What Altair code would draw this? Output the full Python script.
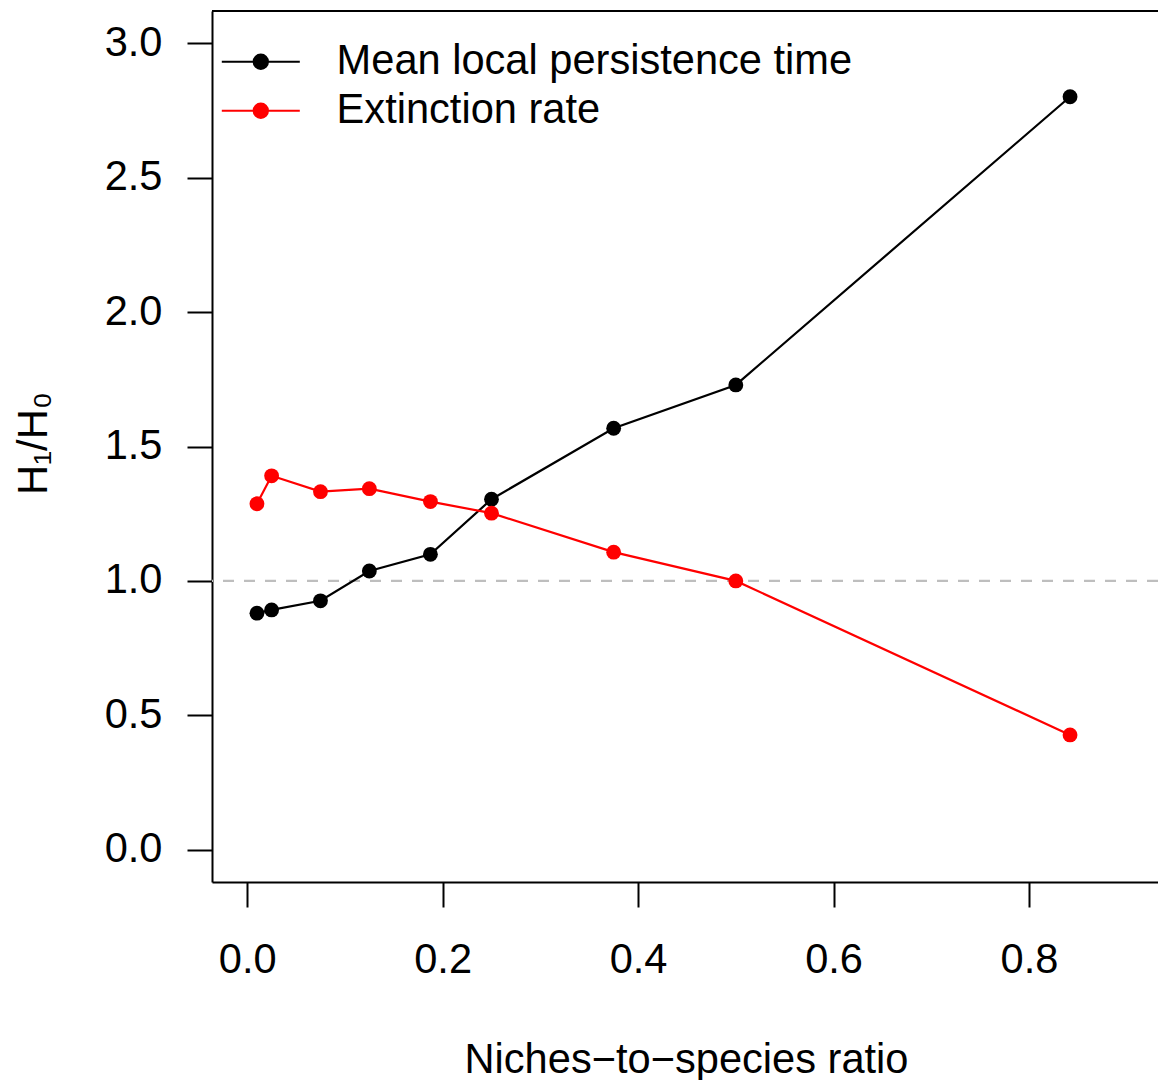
import altair as alt
import pandas as pd

# ---- data ----
ratio = [0.01, 0.025, 0.075, 0.125, 0.1875, 0.25, 0.375, 0.5, 0.842]
persistence = [0.880, 0.892, 0.926, 1.037, 1.099, 1.304, 1.568, 1.729, 2.801]
extinction = [1.287, 1.391, 1.332, 1.343, 1.295, 1.252, 1.107, 1.000, 0.427]
series_names = ["Mean local persistence time", "Extinction rate"]
series_colors = ["black", "red"]
x_ticks = [0.0, 0.2, 0.4, 0.6, 0.8]
y_ticks = [0.0, 0.5, 1.0, 1.5, 2.0, 2.5, 3.0]
ref_level = [1.0]

FONT = "Liberation Sans"
FS = 41.6
W, H = 946, 871

rows = []
for name, vals in zip(series_names, [persistence, extinction]):
    for xv, yv in zip(ratio, vals):
        rows.append({"ratio": xv, "value": yv, "series": name})
df = pd.DataFrame(rows)

x_scale = alt.Scale(domain=[-0.036, 0.932], nice=False, zero=False)
y_scale = alt.Scale(domain=[-0.12, 3.12], nice=False, zero=False)

legend_symbol = (
    "M-3.9,0L3.9,0"
    "M-0.72,0A0.72,0.72,0,1,1,0.72,0A0.72,0.72,0,1,1,-0.72,0Z"
    "M-0.52,0A0.52,0.52,0,1,1,0.52,0A0.52,0.52,0,1,1,-0.52,0Z"
    "M-0.32,0A0.32,0.32,0,1,1,0.32,0A0.32,0.32,0,1,1,-0.32,0Z"
    "M-0.12,0A0.12,0.12,0,1,1,0.12,0A0.12,0.12,0,1,1,-0.12,0Z"
)

color = alt.Color(
    "series:N",
    scale=alt.Scale(domain=series_names, range=series_colors),
    legend=alt.Legend(
        title=None,
        orient="none",
        legendX=28,
        legendY=30,
        padding=0,
        symbolType=legend_symbol,
        symbolSize=400,
        symbolStrokeWidth=2,
        labelFont=FONT,
        labelFontSize=FS,
        labelColor="black",
        labelOffset=55,
        rowPadding=6,
        labelLimit=0,
    ),
)

x_enc = alt.X(
    "ratio:Q",
    scale=x_scale,
    axis=alt.Axis(
        values=x_ticks,
        format=".1f",
        title="Niches\u2212to\u2212species ratio",
        titleX=474,
        titleY=190,
        titleBaseline="alphabetic",
        titleAlign="center",
    ),
)
y_enc = alt.Y(
    "value:Q",
    scale=y_scale,
    axis=alt.Axis(
        values=y_ticks,
        format=".1f",
        title="H\u2081/H\u2080",
        titleX=-166,
        titleY=432,
        titleAngle=-90,
        titleAlign="center",
        titleBaseline="alphabetic",
    ),
)

base = alt.Chart(df)
lines = base.mark_line(strokeWidth=2.2).encode(x=x_enc, y=y_enc, color=color, detail="series:N")
points = base.mark_point(filled=True, size=220, opacity=1).encode(x="ratio:Q", y="value:Q", color=color)

ref = alt.Chart(pd.DataFrame({"ref": ref_level})).mark_rule(
    color="#bebebe", strokeWidth=2.2, strokeDash=[11, 10]
).encode(y=alt.Y("ref:Q", scale=y_scale))

top_line = alt.Chart(pd.DataFrame({"k": [0]})).mark_rule(color="black", strokeWidth=2).encode(
    y=alt.value(0), x=alt.value(0), x2=alt.value(W)
)

chart = (
    alt.layer(ref, lines, points, top_line)
    .properties(
        width=W,
        height=H,
        padding={"left": 212, "top": 11, "right": 0, "bottom": 198},
        autosize=alt.AutoSizeParams(type="none"),
        background="white",
    )
    .configure_view(stroke=None)
    .configure_axis(
        grid=False,
        domainColor="black",
        domainWidth=2,
        tickColor="black",
        tickWidth=2,
        tickSize=25,
        labelFont=FONT,
        labelFontSize=FS,
        labelColor="black",
        titleFont=FONT,
        titleFontSize=FS,
        titleFontWeight="normal",
        titleColor="black",
    )
    .configure_axisX(labelBaseline="alphabetic", labelPadding=65)
    .configure_axisY(labelPadding=25)
)

chart.save("out.html", embed_options={"renderer": "svg", "actions": False})
